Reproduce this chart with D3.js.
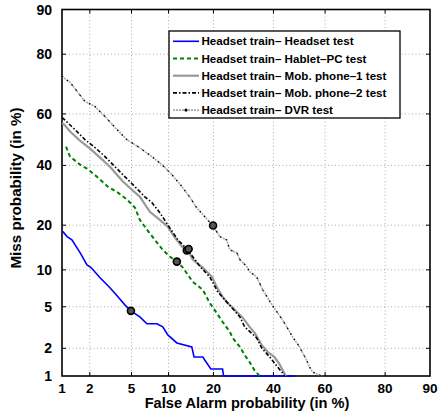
<!DOCTYPE html>
<html>
<meta charset="utf-8" />
<style>
  body { margin: 0; background: #fff; }
  text { font-family: "Liberation Sans", Arial, sans-serif; font-weight: bold; }
</style>
<svg width="439" height="413"></svg>
<script src="https://d3js.org/d3.v7.min.js"></script>
<script>
  // DET curves, values in % (false alarm, miss)
  const ticks = [1, 2, 5, 10, 20, 40, 60, 80, 90];
  const seriesNames = [
    "Headset train\u2013 Headset test",
    "Headset train\u2013 Hablet\u2013PC test",
    "Headset train\u2013 Mob. phone\u20131 test",
    "Headset train\u2013 Mob. phone\u20132 test",
    "Headset train\u2013 DVR test",
  ];

  const headset = [
    [1.0, 18.4], [1.03, 18.2], [1.14, 17.0], [1.29, 16.2], [1.58, 13.3], [1.87, 10.9],
    [2.06, 10.4], [2.54, 8.7], [3.17, 7.24], [3.77, 6.1], [4.36, 5.2], [4.94, 4.6],
    [5.9, 4.06], [6.76, 3.5], [8.13, 3.5], [9.04, 3.27], [9.87, 2.73], [11.5, 2.27],
    [14.6, 2.07], [15.1, 1.62], [17.2, 1.62], [19.3, 1.2], [22.6, 1.2], [22.9, 1.0],
    [48.2, 1.0],
  ];
  const hablet = [
    [1.11, 47.3], [1.23, 43.4], [1.58, 40.3], [1.87, 38.8], [2.36, 35.8], [3.03, 32.2],
    [3.77, 30.1], [4.55, 27.8], [5.35, 25.2], [5.9, 21.5], [6.76, 18.8], [7.84, 16.2],
    [9.04, 13.9], [10.2, 12.5], [11.5, 11.5], [12.7, 10.4], [14.8, 8.1], [17.2, 6.97],
    [19.0, 5.4], [20.9, 4.4], [22.6, 3.65], [24.8, 2.92], [25.7, 2.55], [28.0, 2.07],
    [29.6, 1.7], [31.3, 1.43], [33.1, 1.15], [34.9, 1.0],
  ];
  const mobile1 = [
    [1.0, 56.5], [1.06, 55.9], [1.23, 53.2], [1.58, 49.6], [2.01, 46.5], [2.54, 43.0],
    [3.17, 39.5], [3.69, 36.5], [4.19, 34.0], [5.04, 31.1], [5.9, 28.7], [7.15, 23.9],
    [8.58, 21.5], [9.87, 19.6], [10.75, 17.5], [12.5, 14.6], [13.7, 13.9], [14.8, 11.9],
    [17.2, 10.4], [19.6, 8.85], [20.9, 7.37], [22.6, 6.1], [24.1, 5.4], [25.7, 4.9],
    [29.0, 3.97], [31.3, 3.27], [33.1, 2.86], [35.6, 2.17], [37.8, 1.84], [40.4, 1.62],
    [42.3, 1.36], [43.9, 1.11], [44.7, 1.0],
  ];
  const mobile2 = [
    [1.0, 58.6], [1.03, 58.3], [1.39, 54.0], [1.78, 50.0], [2.26, 46.9], [2.84, 43.4],
    [3.54, 39.5], [4.36, 35.8], [5.35, 32.2], [6.5, 28.7], [7.42, 26.8], [8.58, 23.6],
    [10.2, 19.3], [11.7, 16.2], [13.7, 13.9], [16.5, 10.6], [19.0, 8.85], [21.2, 6.71],
    [24.1, 5.41], [28.0, 4.06], [29.6, 3.27], [33.8, 2.55], [35.6, 2.02], [38.6, 1.62],
    [41.2, 1.3], [43.5, 1.08], [44.3, 1.0],
  ];
  const dvr = [
    [1.0, 73.5], [1.03, 73.0], [1.23, 71.4], [1.5, 67.9], [1.78, 64.7], [2.26, 62.8],
    [2.84, 59.0], [3.69, 54.0], [4.55, 50.0], [5.68, 47.3], [7.42, 43.4], [8.9, 40.3],
    [10.6, 36.5], [12.5, 32.2], [14.1, 28.7], [15.7, 25.2], [19.8, 19.9], [21.8, 17.0],
    [23.8, 16.2], [24.8, 13.9], [27.0, 13.3], [28.0, 11.9], [30.3, 10.6], [31.3, 9.7],
    [33.8, 8.85], [36.0, 6.97], [39.7, 5.09], [43.5, 3.8], [47.4, 2.61], [50.1, 2.07],
    [51.3, 1.79], [52.8, 1.51], [54.0, 1.26], [55.2, 1.11], [58.6, 1.0],
  ];
  // operating points (FA %, Miss %)
  const markers = [[4.94, 4.6], [11.5, 11.5], [13.5, 13.8], [13.9, 14.1], [19.9, 19.9]];

  // inverse normal cdf (Acklam)
  function probit(p) {
    const a = [-39.69683028665376, 220.9460984245205, -275.9285104469687, 138.357751867269, -30.66479806614716, 2.506628277459239];
    const b = [-54.47609879822406, 161.5858368580409, -155.6989798598866, 66.80131188771972, -13.28068155288572];
    const c = [-0.007784894002430293, -0.3223964580411365, -2.400758277161838, -2.549732539343734, 4.374664141464968, 2.938163982698783];
    const d = [0.007784695709041462, 0.3224671290700398, 2.445134137142996, 3.754408661907416];
    const pl = 0.02425;
    let q, r;
    if (p < pl) {
      q = Math.sqrt(-2 * Math.log(p));
      return (((((c[0] * q + c[1]) * q + c[2]) * q + c[3]) * q + c[4]) * q + c[5]) /
        ((((d[0] * q + d[1]) * q + d[2]) * q + d[3]) * q + 1);
    }
    if (p <= 1 - pl) {
      q = p - 0.5; r = q * q;
      return (((((a[0] * r + a[1]) * r + a[2]) * r + a[3]) * r + a[4]) * r + a[5]) * q /
        (((((b[0] * r + b[1]) * r + b[2]) * r + b[3]) * r + b[4]) * r + 1);
    }
    q = Math.sqrt(-2 * Math.log(1 - p));
    return -(((((c[0] * q + c[1]) * q + c[2]) * q + c[3]) * q + c[4]) * q + c[5]) /
      ((((d[0] * q + d[1]) * q + d[2]) * q + d[3]) * q + 1);
  }

  const svg = d3.select("svg");
  const pLeft = 62, pRight = 430, pTop = 9.5, pBottom = 376;

  const xLin = d3.scaleLinear().domain([probit(0.01), probit(0.9)]).range([pLeft, pRight]);
  const yLin = d3.scaleLinear().domain([probit(0.01), probit(0.9)]).range([pBottom, pTop]);
  const x = (v) => xLin(probit(v / 100));
  const y = (v) => yLin(probit(v / 100));

  // grid
  const inner = ticks.slice(1, -1);
  const grid = svg.append("g").attr("stroke", "#999").attr("stroke-width", 0.8).attr("stroke-dasharray", "1,2.5");
  grid.selectAll(".gx").data(inner).join("line")
    .attr("x1", (d) => x(d)).attr("x2", (d) => x(d)).attr("y1", pTop).attr("y2", pBottom);
  grid.selectAll(".gy").data(inner).join("line")
    .attr("y1", (d) => y(d)).attr("y2", (d) => y(d)).attr("x1", pLeft).attr("x2", pRight);

  // frame + ticks (curves are drawn over it, as in the original)
  svg.append("rect").attr("x", pLeft).attr("y", pTop).attr("width", pRight - pLeft).attr("height", pBottom - pTop)
    .attr("fill", "none").attr("stroke", "#000").attr("stroke-width", 1.6);
  const tk = svg.append("g").attr("stroke", "#000").attr("stroke-width", 1);
  inner.forEach((t) => {
    tk.append("line").attr("x1", x(t)).attr("x2", x(t)).attr("y1", pBottom).attr("y2", pBottom - 4);
    tk.append("line").attr("x1", x(t)).attr("x2", x(t)).attr("y1", pTop).attr("y2", pTop + 4);
    tk.append("line").attr("y1", y(t)).attr("y2", y(t)).attr("x1", pLeft).attr("x2", pLeft + 4);
    tk.append("line").attr("y1", y(t)).attr("y2", y(t)).attr("x1", pRight).attr("x2", pRight - 4);
  });

  svg.append("clipPath").attr("id", "clip").append("rect")
    .attr("x", pLeft).attr("y", pTop).attr("width", pRight - pLeft).attr("height", pBottom - pTop + 1.5);

  const line = d3.line().x((d) => x(d[0])).y((d) => y(d[1]));
  const plot = svg.append("g").attr("clip-path", "url(#clip)").attr("fill", "none");

  const styles = [
    { data: headset, stroke: "#0000ff", width: 1.6, dash: null },
    { data: hablet, stroke: "#008000", width: 2, dash: "4,3" },
    { data: mobile1, stroke: "#999999", width: 2.2, dash: null },
    { data: mobile2, stroke: "#000000", width: 1.6, dash: "4,2,1.5,2" },
    { data: dvr, stroke: "#a8a8a8", width: 1.6, dash: "2,1" },
  ];

  // DVR first so the others sit on top of it
  plot.append("path").attr("d", line(dvr)).attr("stroke", "#a8a8a8").attr("stroke-width", 1.6)
    .attr("stroke-dasharray", "2,1");
  plot.append("path").attr("d", line(dvr)).attr("stroke", "#000").attr("stroke-width", 1.3)
    .attr("stroke-dasharray", "1.5,5");
  styles.slice(0, 4).forEach((s) => {
    plot.append("path").attr("d", line(s.data)).attr("stroke", s.stroke)
      .attr("stroke-width", s.width).attr("stroke-dasharray", s.dash);
  });

  plot.selectAll("circle").data(markers).join("circle")
    .attr("cx", (d) => x(d[0])).attr("cy", (d) => y(d[1])).attr("r", 3.5)
    .attr("fill", "#555").attr("stroke", "#000").attr("stroke-width", 1.6);

  svg.append("g").selectAll("text").data(ticks).join("text")
    .attr("x", (d) => x(d)).attr("y", 393).attr("text-anchor", "middle")
    .attr("font-size", 13.5).text((d) => d);
  svg.append("g").selectAll("text").data(ticks).join("text")
    .attr("x", 52).attr("y", (d) => y(d) + 5).attr("text-anchor", "end")
    .attr("font-size", 14).text((d) => d);

  svg.append("text").attr("x", 247).attr("y", 408).attr("text-anchor", "middle")
    .attr("font-size", 14.6).text("False Alarm probability (in %)");
  svg.append("text").attr("transform", "translate(20.5,188) rotate(-90)").attr("text-anchor", "middle")
    .attr("font-size", 15.2).text("Miss probability (in %)");

  // legend
  const lg = svg.append("g");
  lg.append("rect").attr("x", 169).attr("y", 31).attr("width", 231).attr("height", 87)
    .attr("fill", "#fff").attr("stroke", "#000").attr("stroke-width", 1.3);
  seriesNames.forEach((name, i) => {
    const cy = 41.3 + i * 17.2;
    const s = styles[i];
    lg.append("line").attr("x1", 173).attr("x2", 199).attr("y1", cy).attr("y2", cy)
      .attr("stroke", s.stroke).attr("stroke-width", s.width).attr("stroke-dasharray", s.dash);
    if (i === 4) lg.append("circle").attr("cx", 186).attr("cy", cy).attr("r", 1.6).attr("fill", "#000");
    lg.append("text").attr("x", 201.5).attr("y", cy + 4).attr("font-size", 11.6).text(name);
  });
</script>
</html>
